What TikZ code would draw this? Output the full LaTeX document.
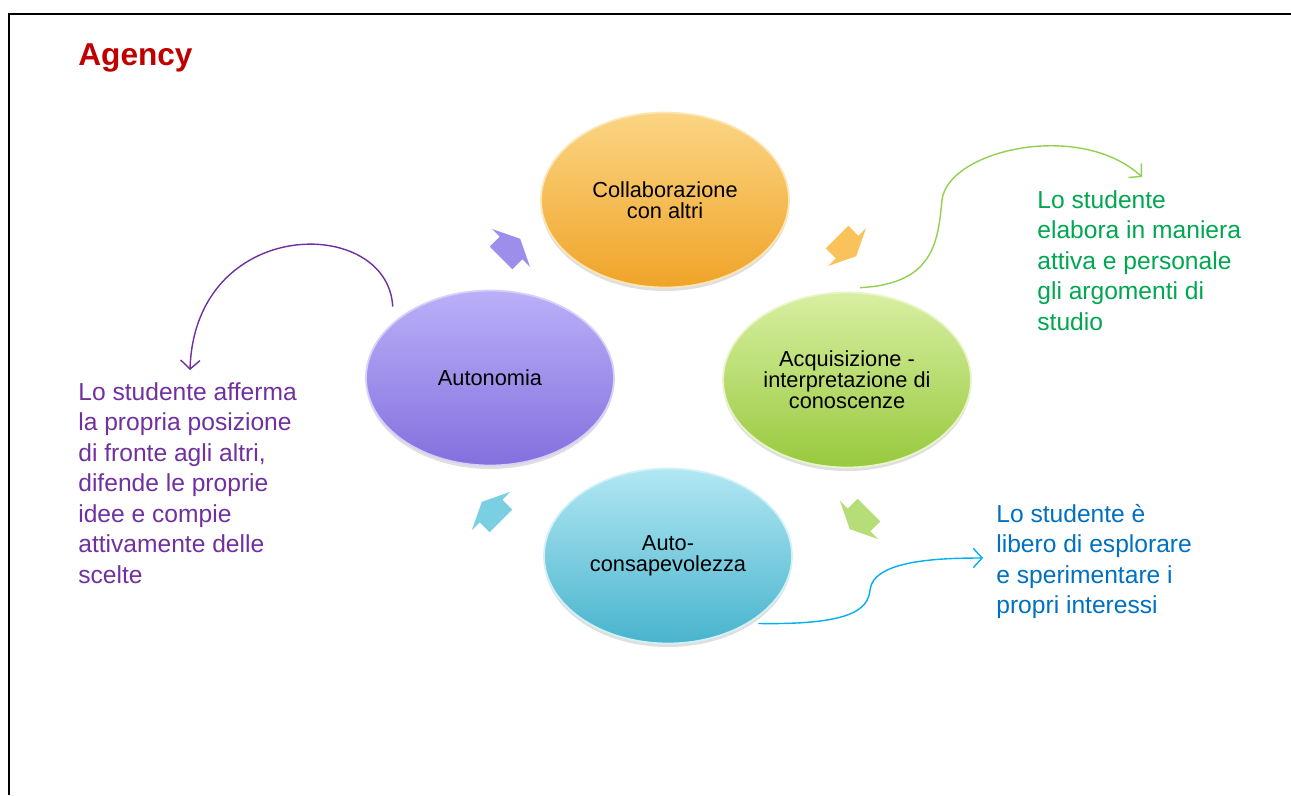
\documentclass[tikz,border=0pt]{standalone}
\usepackage{fontspec}
\setmainfont{Liberation Sans}
\usetikzlibrary{shapes.geometric,shadows,arrows.meta,calc}

\definecolor{agencyred}{HTML}{C00000}
\definecolor{orangetop}{HTML}{FBD584}
\definecolor{orangebottom}{HTML}{F0A428}
\definecolor{purpletop}{HTML}{BAB0F8}
\definecolor{purplebottom}{HTML}{8470DE}
\definecolor{greentop}{HTML}{D8EFA2}
\definecolor{greenbottom}{HTML}{98C93E}
\definecolor{cyantop}{HTML}{B2E7F3}
\definecolor{cyanbottom}{HTML}{48B4CD}
\definecolor{purplearrow}{HTML}{9C8EEA}
\definecolor{orangearrow}{HTML}{F9C25A}
\definecolor{greenarrow}{HTML}{B5DE78}
\definecolor{cyanarrow}{HTML}{7ACFE2}
\definecolor{purpletext}{HTML}{7030A0}
\definecolor{greentext}{HTML}{00A650}
\definecolor{bluetext}{HTML}{0070C0}
\definecolor{greenline}{HTML}{92D050}
\definecolor{blueline}{HTML}{00B0F0}

\begin{document}
\begin{tikzpicture}[x=0.02cm,y=-0.02cm,
  stage/.style n args={2}{ellipse, inner sep=0pt, minimum width=4.96cm, minimum height=3.5cm,
    align=center, font=\fontsize{12.4}{12}\selectfont, top color=#1, bottom color=#2,
    draw=#1!60!white, line width=1pt,
    drop shadow={opacity=0.25, shadow xshift=0pt, shadow yshift=-2pt}},
  note/.style={align=left, inner sep=0pt, anchor=north west, font=\fontsize{14}{17.35}\selectfont},
  link/.style={line width=0.8pt, -{Straight Barb[length=5pt,width=11pt]}}]
\useasboundingbox (0,0) rectangle (1291,795);
\draw[line width=1.1pt] (9,795) -- (9,14) -- (1291,14);

\node[font=\fontsize{18}{20}\selectfont\bfseries, text=agencyred, anchor=base west, inner sep=0pt] (agency) at (78,65) {Agency};

\foreach \ax/\ay/\ang/\col in {511/248/45/purplearrow, 847/247/-45/orangearrow, 859/520/-135/greenarrow, 491/511/135/cyanarrow}
  \fill[\col, shift={(\ax,\ay)}, rotate=\ang] (-14,-16) -- (0,-16) -- (0,-27) -- (13,0) -- (0,27) -- (0,16) -- (-14,16) -- cycle;

\node[stage={orangetop}{orangebottom}] (collaborazione) at (665,200) {Collaborazione\\con altri};
\node[stage={purpletop}{purplebottom}] (autonomia) at (490,378) {Autonomia};
\node[stage={greentop}{greenbottom}] (acquisizione) at (847,380) {Acquisizione -\\interpretazione di\\conoscenze};
\node[stage={cyantop}{cyanbottom}] (autoconsapevolezza) at (668,556) {Auto-\\consapevolezza};

\node[note, text=purpletext] (affermatext) at (78,382) {Lo studente afferma\\la propria posizione\\di fronte agli altri,\\difende le proprie\\idee e compie\\attivamente delle\\scelte};
\node[note, text=greentext] (elaboratext) at (1037,190) {Lo studente\\elabora in maniera\\attiva e personale\\gli argomenti di\\studio};
\node[note, text=bluetext] (esploraretext) at (996,504) {Lo studente è\\libero di esplorare\\e sperimentare i\\propri interessi};

\coordinate (affermaend) at (190,370);
\coordinate (elaboraend) at (1142,177);
\coordinate (esplorareend) at (983,558);

\draw[link, purpletext] ($(autonomia.north west)+(-9,-9)$) .. controls (388,215) and (195,215) .. (affermaend);
\draw[link, greenline] ($(acquisizione.north)+(13,-4)$) .. controls (935,284) and (938,240) .. (942,200)
  .. controls (948,150) and (1080,120) .. (elaboraend);
\draw[link, blueline] ($(autoconsapevolezza.south east)+(2,5)$) .. controls (850,625) and (868,610) .. (870,590)
  .. controls (873,560) and (940,558) .. (esplorareend);
\end{tikzpicture}
\end{document}
